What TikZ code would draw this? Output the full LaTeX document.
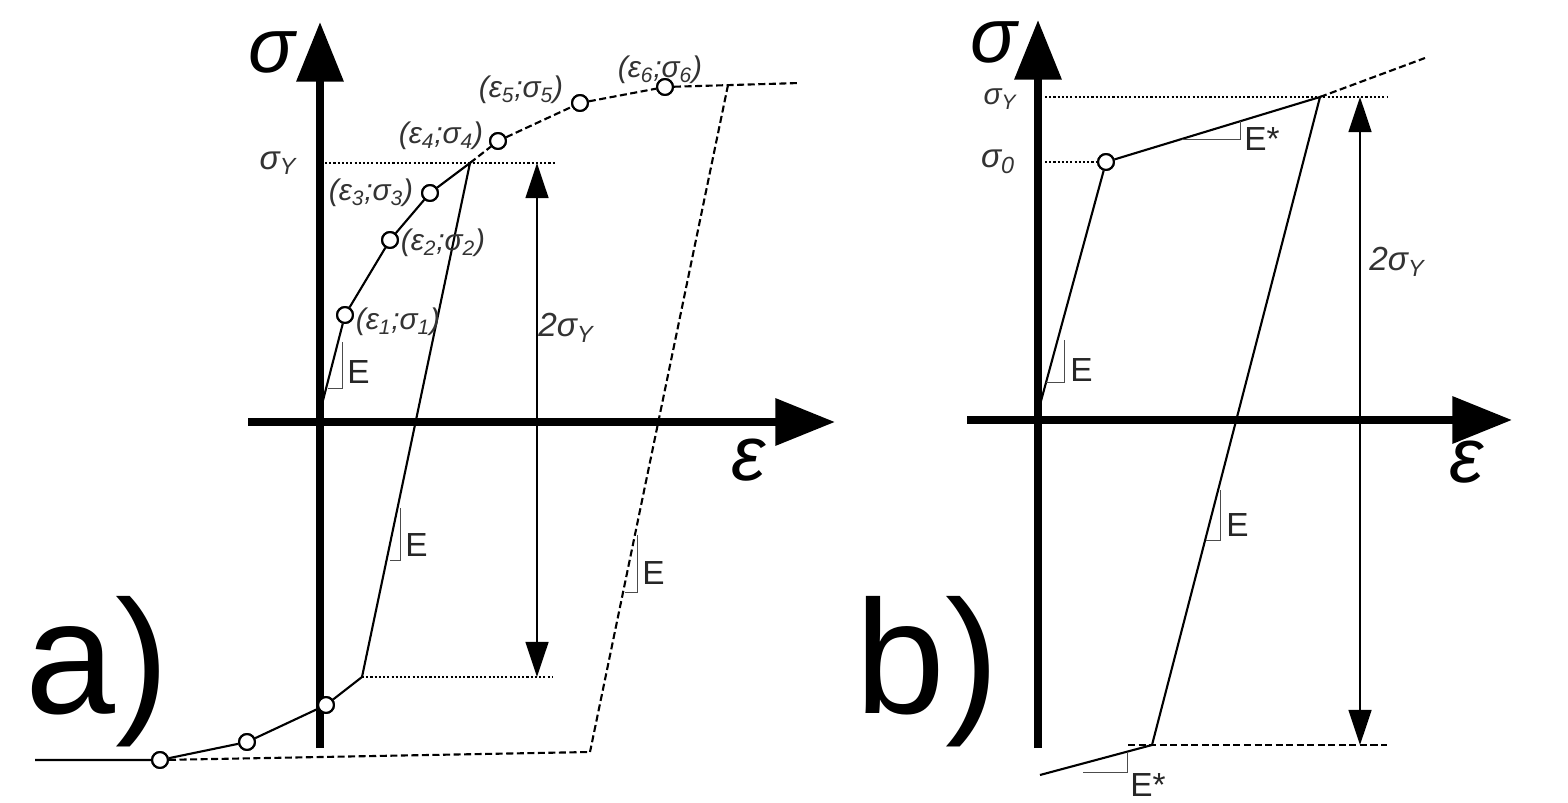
\documentclass[tikz,border=0pt]{standalone}
\usepackage{fontspec}
\setmainfont{Liberation Sans}
\usetikzlibrary{arrows.meta}
\begin{document}
\begin{tikzpicture}[x=0.02cm,y=-0.02cm,
  ax/.style={line width=4.5pt,-{Triangle[length=34pt,width=26pt]}},
  crv/.style={line width=1.2pt},
  dsh/.style={line width=1.2pt,dash pattern=on 4pt off 2pt},
  dot/.style={line width=1.2pt,dash pattern=on 1.2pt off 1.2pt},
  dbl/.style={line width=1.2pt,{Triangle[length=20pt,width=13pt]}-{Triangle[length=20pt,width=13pt]}},
  pt/.style={circle,draw,line width=1.2pt,fill=white,inner sep=0pt,minimum size=9pt},
  lab/.style={font=\fontsize{17}{17}\selectfont\itshape,inner sep=0pt,text=black!80},
  el/.style={font=\fontsize{19}{19}\selectfont,inner sep=0pt,text=black!85},
  big/.style={font=\fontsize{44}{44}\selectfont\itshape,inner sep=0pt},
  tri/.style={line width=0.5pt,black!70}]
\useasboundingbox (0,0) rectangle (1568,803);
% ===== panel a =====
\coordinate (aO) at (320,748); \coordinate (aT) at (320,22);
\coordinate (aL) at (248,422); \coordinate (aR) at (835,422);
\draw[ax] (aO) -- (aT);
\draw[ax] (aL) -- (aR);
\node[big] (as) at (272,52) {σ};
\node[big] (ae) at (748,460) {ε};
\node[font=\fontsize{92}{92}\selectfont,inner sep=0pt] (alab) at (97,672) {a)};
\coordinate (a0) at (320,412);
\coordinate (aY) at (470,163);
\coordinate (aB) at (362,677);
\node[pt] (p1) at (345,315) {};
\node[pt] (p2) at (390,240) {};
\node[pt] (p3) at (430,193) {};
\node[pt] (p4) at (498,141) {};
\node[pt] (p5) at (580,103) {};
\node[pt] (p6) at (665,87) {};
\coordinate (aEnd) at (800,83);
\coordinate (aD1) at (728,85);
\coordinate (aD2) at (590,752);
\coordinate (aLeft) at (35,760);
\coordinate (yd1) at (325,163); \coordinate (yd2) at (555,163);
\coordinate (bd2) at (552,677);
\coordinate (arT) at (537,163); \coordinate (arB) at (537,677);
\draw[dot] (yd1) -- (yd2);
\draw[dot] (aB) -- (bd2);
\draw[dbl] (arT) -- (arB);
\draw[dsh] (aY) -- (p4) -- (p5) -- (p6) -- (aEnd);
\draw[dsh] (aD1) -- (aD2);
\node[pt] (q1) at (326,705) {};
\node[pt] (q2) at (247,742) {};
\node[pt] (q3) at (160,760) {};
\draw[dsh] (q3) -- (aD2);
\draw[crv] (a0) -- (p1) -- (p2) -- (p3) -- (aY) -- (aB) -- (q1) -- (q2) -- (q3) -- (aLeft);
\foreach \n in {p1,p2,p3,p4,p5,p6,q1,q2,q3} \node[pt] at (\n) {};
% slope triangles
\draw[tri] (328,388) -- (342,388) -- (342,342);
\node[el,anchor=west] (aE1) at (347,372) {E};
\draw[tri] (390,560) -- (400,560) -- (400,508);
\node[el,anchor=west] (aE2) at (405,545) {E};
\draw[tri] (625,592) -- (637,592) -- (637,535);
\node[el,anchor=west] (aE3) at (642,573) {E};
% labels
\node[lab] (l1) at (398,322) {(ε\textsubscript{1};σ\textsubscript{1})};
\node[lab] (l2) at (443,243) {(ε\textsubscript{2};σ\textsubscript{2})};
\node[lab] (l3) at (371,193) {(ε\textsubscript{3};σ\textsubscript{3})};
\node[lab] (l4) at (441,136) {(ε\textsubscript{4};σ\textsubscript{4})};
\node[lab] (l5) at (521,90) {(ε\textsubscript{5};σ\textsubscript{5})};
\node[lab] (l6) at (660,70) {(ε\textsubscript{6};σ\textsubscript{6})};
\node[lab,font=\fontsize{19}{19}\selectfont\itshape] (a2y) at (566,328) {2σ\textsubscript{Y}};
\node[lab,font=\fontsize{19}{19}\selectfont\itshape] (ay) at (278,163) {σ\textsubscript{Y}};
% ===== panel b =====
\coordinate (bO) at (1038,748); \coordinate (bT) at (1038,20);
\coordinate (bL) at (967,420); \coordinate (bR) at (1512,420);
\draw[ax] (bO) -- (bT);
\draw[ax] (bL) -- (bR);
\node[big] (bs) at (994,42) {σ};
\node[big] (be) at (1466,462) {ε};
\node[font=\fontsize{92}{92}\selectfont,inner sep=0pt] (blab) at (927,672) {b)};
\coordinate (b0) at (1038,412);
\node[pt] (s0) at (1106,162) {};
\coordinate (bY) at (1320,97);
\coordinate (bDe) at (1425,58);
\coordinate (bBot) at (1152,745);
\coordinate (bLow) at (1040,775);
\coordinate (byd1) at (1045,97); \coordinate (byd2) at (1387,97);
\coordinate (b0d1) at (1045,162);
\coordinate (bbd1) at (1128,745); \coordinate (bbd2) at (1387,745);
\coordinate (barT) at (1360,97); \coordinate (barB) at (1360,745);
\draw[dot] (byd1) -- (byd2);
\draw[dot] (b0d1) -- (s0);
\draw[dsh] (bbd1) -- (bbd2);
\draw[dsh] (bY) -- (bDe);
\draw[dbl] (barT) -- (barB);
\draw[crv] (b0) -- (s0) -- (bY) -- (bBot) -- (bLow);
\node[pt] at (s0) {};
\draw[tri] (1182,139) -- (1240,139) -- (1240,121);
\node[el,anchor=west] (bEs1) at (1244,139) {E*};
\draw[tri] (1046,382) -- (1064,382) -- (1064,340);
\node[el,anchor=west] (bE1) at (1070,370) {E};
\draw[tri] (1206,540) -- (1220,540) -- (1220,490);
\node[el,anchor=west] (bE2) at (1226,525) {E};
\draw[tri] (1083,772) -- (1127,772) -- (1127,752);
\node[el,anchor=west] (bEs2) at (1130,785) {E*};
\node[lab,font=\fontsize{19}{19}\selectfont\itshape] (b2y) at (1397,262) {2σ\textsubscript{Y}};
\node[lab,font=\fontsize{17}{17}\selectfont\itshape] (by) at (1000,99) {σ\textsubscript{Y}};
\node[lab,font=\fontsize{19}{19}\selectfont\itshape] (bs0) at (998,162) {σ\textsubscript{0}};
\end{tikzpicture}
\end{document}
